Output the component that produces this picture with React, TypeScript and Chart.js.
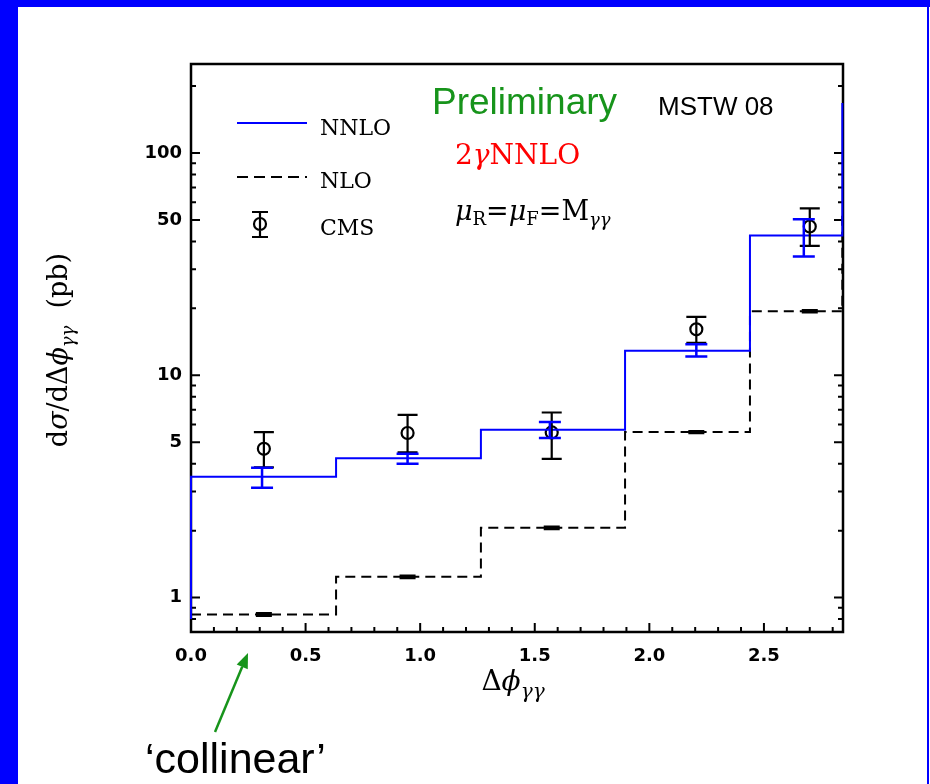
import React, { useEffect, useRef } from 'react';
import { Chart, registerables } from 'chart.js';

Chart.register(...registerables);

// ---- data ----
const binEdges = [0, 0.633, 1.265, 1.894, 2.439, 2.842];
const nnloValues = [3.5, 4.23, 5.69, 12.9, 42.5, 168];
const nnloStart = 0.8;
const nloValues = [0.839, 1.24, 2.06, 5.55, 19.4, 55];

const cmsX = [0.318, 0.945, 1.574, 2.205, 2.7];
const cmsY = [4.67, 5.5, 5.53, 16.1, 46.7];
const cmsHigh = [5.55, 6.64, 6.8, 18.3, 56.4];
const cmsLow = [3.85, 4.5, 4.21, 14.0, 38.2];

const nnloErrX = [0.31, 0.945, 1.566, 2.205, 2.674];
const nnloErrHigh = [3.84, 4.44, 6.16, 13.8, 50.3];
const nnloErrLow = [3.12, 4.0, 5.22, 12.15, 34.2];

const nloErrX = [0.318, 0.945, 1.574, 2.205, 2.7];
const nloErrHigh = [0.85, 1.255, 2.085, 5.6, 19.6];
const nloErrLow = [0.828, 1.225, 2.035, 5.5, 19.2];

const xTickLabels = [0, 0.5, 1, 1.5, 2, 2.5];
const xMinorTicks = [0.1, 0.2, 0.3, 0.4, 0.6, 0.7, 0.8, 0.9, 1.1, 1.2, 1.3, 1.4, 1.6, 1.7, 1.8, 1.9, 2.1, 2.2, 2.3, 2.4, 2.6, 2.7, 2.8];
const yTickLabels = [1, 5, 10, 50, 100];
const yMinorTicks = [0.8, 0.9, 2, 3, 4, 6, 7, 8, 9, 20, 30, 40, 60, 70, 80, 90, 200];

const X_MIN = 0;
const X_MAX = 2.845;
const Y_MIN = 0.7033;
const Y_MAX = 251.4;

const BLUE = '#0000ff';
const GREEN = '#17941b';
const RED = '#ff0000';
const SERIF = "'DejaVu Serif'";
const SANS = "'Liberation Sans'";
const PHI = '\u03D5';

type Seg = { t: string; font: string; dy?: number };

function richWidth(ctx: CanvasRenderingContext2D, segs: Seg[]) {
  let w = 0;
  for (const s of segs) {
    ctx.font = s.font;
    w += ctx.measureText(s.t).width;
  }
  return w;
}

function drawRich(ctx: CanvasRenderingContext2D, segs: Seg[], x: number, y: number, align: 'left' | 'center', color: string) {
  const w = richWidth(ctx, segs);
  let cx = align === 'center' ? x - w / 2 : x;
  ctx.fillStyle = color;
  ctx.textAlign = 'left';
  ctx.textBaseline = 'alphabetic';
  for (const s of segs) {
    ctx.font = s.font;
    ctx.fillText(s.t, cx, y + (s.dy || 0));
    cx += ctx.measureText(s.t).width;
  }
}

const overlayPlugin = {
  id: 'overlay',
  beforeDraw(chart: any) {
    const { ctx, width, height } = chart;
    ctx.save();
    ctx.fillStyle = '#ffffff';
    ctx.fillRect(0, 0, width, height);
    ctx.restore();
  },
  beforeDatasetsDraw(chart: any) {
    const { ctx, chartArea, scales } = chart;
    const { left, right, top, bottom } = chartArea;
    const xs = scales.x;
    const ys = scales.y;
    ctx.save();
    ctx.strokeStyle = '#000';
    ctx.lineWidth = 2.5;
    ctx.strokeRect(left, top, right - left, bottom - top);
    ctx.lineWidth = 2;
    ctx.beginPath();
    const tick = (v: number, len: number) => {
      const py = ys.getPixelForValue(v);
      ctx.moveTo(left, py);
      ctx.lineTo(left + len, py);
      ctx.moveTo(right, py);
      ctx.lineTo(right - len, py);
    };
    yTickLabels.forEach((v) => tick(v, 9));
    yMinorTicks.forEach((v) => tick(v, 5));
    const xtick = (v: number, len: number) => {
      const px = xs.getPixelForValue(v);
      ctx.moveTo(px, bottom);
      ctx.lineTo(px, bottom - len);
    };
    xTickLabels.forEach((v) => xtick(v, 9));
    xMinorTicks.forEach((v) => xtick(v, 5));
    ctx.stroke();
    ctx.restore();
  },
  afterDatasetsDraw(chart: any) {
    const { ctx, scales } = chart;
    const xs = scales.x;
    const ys = scales.y;
    const bar = (x: number, lo: number, hi: number, cap: number, color: string, lw: number) => {
      const px = xs.getPixelForValue(x);
      const pl = ys.getPixelForValue(lo);
      const ph = ys.getPixelForValue(hi);
      ctx.strokeStyle = color;
      ctx.lineWidth = lw;
      ctx.beginPath();
      ctx.moveTo(px, pl);
      ctx.lineTo(px, ph);
      ctx.moveTo(px - cap, pl);
      ctx.lineTo(px + cap, pl);
      ctx.moveTo(px - cap, ph);
      ctx.lineTo(px + cap, ph);
      ctx.stroke();
    };
    ctx.save();
    cmsX.forEach((x, i) => bar(x, cmsLow[i], cmsHigh[i], 10, '#000', 2.2));
    nloErrX.forEach((x, i) => bar(x, nloErrLow[i], nloErrHigh[i], 8, '#000', 2.5));
    nnloErrX.forEach((x, i) => bar(x, nnloErrLow[i], nnloErrHigh[i], 11, BLUE, 2.5));
    ctx.restore();
  },
  afterDraw(chart: any) {
    const { ctx } = chart;
    ctx.save();
    // legend
    ctx.lineWidth = 2;
    ctx.strokeStyle = BLUE;
    ctx.beginPath();
    ctx.moveTo(237, 123);
    ctx.lineTo(307, 123);
    ctx.stroke();
    ctx.strokeStyle = '#000';
    ctx.setLineDash([11, 6]);
    ctx.beginPath();
    ctx.moveTo(237, 177);
    ctx.lineTo(307, 177);
    ctx.stroke();
    ctx.setLineDash([]);
    ctx.lineWidth = 2.2;
    ctx.beginPath();
    ctx.arc(260, 224, 6, 0, Math.PI * 2);
    ctx.moveTo(260, 212);
    ctx.lineTo(260, 237);
    ctx.moveTo(252, 212);
    ctx.lineTo(268, 212);
    ctx.moveTo(252, 237);
    ctx.lineTo(268, 237);
    ctx.stroke();
    ctx.fillStyle = '#000';
    ctx.font = `22px ${SERIF}`;
    ctx.textAlign = 'left';
    ctx.textBaseline = 'alphabetic';
    ctx.fillText('NNLO', 320, 135);
    ctx.fillText('NLO', 320, 188);
    ctx.fillText('CMS', 320, 235);

    // annotations
    ctx.fillStyle = GREEN;
    ctx.font = `37px ${SANS}`;
    ctx.fillText('Preliminary', 432, 114);
    ctx.fillStyle = '#000';
    ctx.font = `26px ${SANS}`;
    ctx.fillText('MSTW 08', 658, 115);

    drawRich(ctx, [
      { t: '2', font: `28px ${SERIF}` },
      { t: 'γ', font: `italic 28px ${SERIF}` },
      { t: 'NNLO', font: `28px ${SERIF}` },
    ], 455, 164, 'left', RED);

    drawRich(ctx, [
      { t: 'μ', font: `italic 27px ${SERIF}` },
      { t: 'R', font: `18px ${SERIF}`, dy: 5 },
      { t: '=', font: `27px ${SERIF}` },
      { t: 'μ', font: `italic 27px ${SERIF}` },
      { t: 'F', font: `18px ${SERIF}`, dy: 5 },
      { t: '=', font: `27px ${SERIF}` },
      { t: 'M', font: `27px ${SERIF}` },
      { t: 'γγ', font: `italic 18px ${SERIF}`, dy: 6 },
    ], 455, 220, 'left', '#000');

    // x title
    drawRich(ctx, [
      { t: 'Δ', font: `28px ${SERIF}` },
      { t: PHI, font: `italic 28px ${SERIF}` },
      { t: 'γγ', font: `italic 20px ${SERIF}`, dy: 8 },
    ], 513, 690, 'center', '#000');

    // y title
    ctx.save();
    ctx.translate(57, 350);
    ctx.rotate(-Math.PI / 2);
    drawRich(ctx, [
      { t: 'd', font: `27px ${SERIF}` },
      { t: 'σ', font: `italic 27px ${SERIF}` },
      { t: '/dΔ', font: `27px ${SERIF}` },
      { t: PHI, font: `italic 27px ${SERIF}` },
      { t: 'γγ', font: `italic 18px ${SERIF}`, dy: 7 },
      { t: '  (pb)', font: `27px ${SERIF}` },
    ], 0, 10, 'center', '#000');
    ctx.restore();

    // arrow + collinear
    const tx = 215, ty = 732, hx = 248, hy = 653;
    const ang = Math.atan2(hy - ty, hx - tx);
    const hl = 15, hw = 6;
    const bx = hx - hl * Math.cos(ang), by = hy - hl * Math.sin(ang);
    ctx.strokeStyle = GREEN;
    ctx.fillStyle = GREEN;
    ctx.lineWidth = 2.5;
    ctx.beginPath();
    ctx.moveTo(tx, ty);
    ctx.lineTo(bx, by);
    ctx.stroke();
    ctx.beginPath();
    ctx.moveTo(hx, hy);
    ctx.lineTo(bx + hw * Math.sin(ang), by - hw * Math.cos(ang));
    ctx.lineTo(bx - hw * Math.sin(ang), by + hw * Math.cos(ang));
    ctx.closePath();
    ctx.fill();

    ctx.fillStyle = '#000';
    ctx.font = `43px ${SANS}`;
    ctx.fillText('\u2018collinear\u2019', 145, 773);
    ctx.restore();
  },
};

export default function App() {
  const ref = useRef<HTMLCanvasElement>(null);
  useEffect(() => {
    if (!ref.current) return;
    const nnloData = [{ x: binEdges[0], y: nnloStart }, ...binEdges.map((e, i) => ({ x: e, y: nnloValues[i] }))];
    const nloData = binEdges.map((e, i) => ({ x: e, y: nloValues[i] }));
    const cmsData = cmsX.map((x, i) => ({ x, y: cmsY[i] }));
    const chart = new Chart(ref.current, {
      type: 'line',
      data: {
        datasets: [
          {
            label: 'NNLO',
            data: nnloData,
            stepped: 'before',
            borderColor: BLUE,
            borderWidth: 2,
            pointRadius: 0,
            fill: false,
            clip: false,
          } as any,
          {
            label: 'NLO',
            data: nloData,
            stepped: 'before',
            borderColor: '#000',
            borderWidth: 2,
            borderDash: [10, 6],
            pointRadius: 0,
            fill: false,
            clip: false,
          } as any,
          {
            label: 'CMS',
            data: cmsData,
            showLine: false,
            pointRadius: 6,
            pointBorderWidth: 2.2,
            borderColor: '#000',
            pointBorderColor: '#000',
            backgroundColor: 'rgba(0,0,0,0)',
            pointBackgroundColor: 'rgba(0,0,0,0)',
          } as any,
        ],
      },
      options: {
        responsive: false,
        animation: false,
        devicePixelRatio: 1,
        layout: { padding: { left: 0, top: 64, right: 87, bottom: 0 } },
        plugins: {
          legend: { display: false },
          tooltip: { enabled: false },
          title: { display: false },
        },
        scales: {
          x: {
            type: 'linear',
            min: X_MIN,
            max: X_MAX,
            border: { display: false },
            grid: { display: false, drawTicks: false },
            ticks: {
              autoSkip: false,
              maxRotation: 0,
              padding: 14,
              color: '#000',
              font: { family: 'DejaVu Sans', weight: 'bold', size: 18 },
              callback: (v: any) => Number(v).toFixed(1),
            },
            afterBuildTicks: (s: any) => {
              s.ticks = xTickLabels.map((v) => ({ value: v }));
            },
            afterFit: (s: any) => {
              s.height = 784 - 632;
            },
          },
          y: {
            type: 'logarithmic',
            min: Y_MIN,
            max: Y_MAX,
            border: { display: false },
            grid: { display: false, drawTicks: false },
            ticks: {
              autoSkip: false,
              padding: 9,
              color: '#000',
              font: { family: 'DejaVu Sans', weight: 'bold', size: 18 },
              callback: (v: any) => String(v),
            },
            afterBuildTicks: (s: any) => {
              s.ticks = yTickLabels.map((v) => ({ value: v }));
            },
            afterFit: (s: any) => {
              s.width = 191;
            },
          },
        },
      } as any,
      plugins: [overlayPlugin],
    });
    return () => chart.destroy();
  }, []);

  return (
    <div style={{ position: 'fixed', left: 0, top: 0, width: 930, height: 784, background: '#fff', overflow: 'hidden' }}>
      <canvas ref={ref} width={930} height={784} style={{ position: 'absolute', left: 0, top: 0, width: 930, height: 784 }} />
      <div style={{ position: 'absolute', left: 0, top: 0, width: 930, height: 7, background: BLUE }} />
      <div style={{ position: 'absolute', left: 0, top: 0, width: 18, height: 784, background: BLUE }} />
      <div style={{ position: 'absolute', left: 927, top: 0, width: 2, height: 784, background: BLUE }} />
    </div>
  );
}
